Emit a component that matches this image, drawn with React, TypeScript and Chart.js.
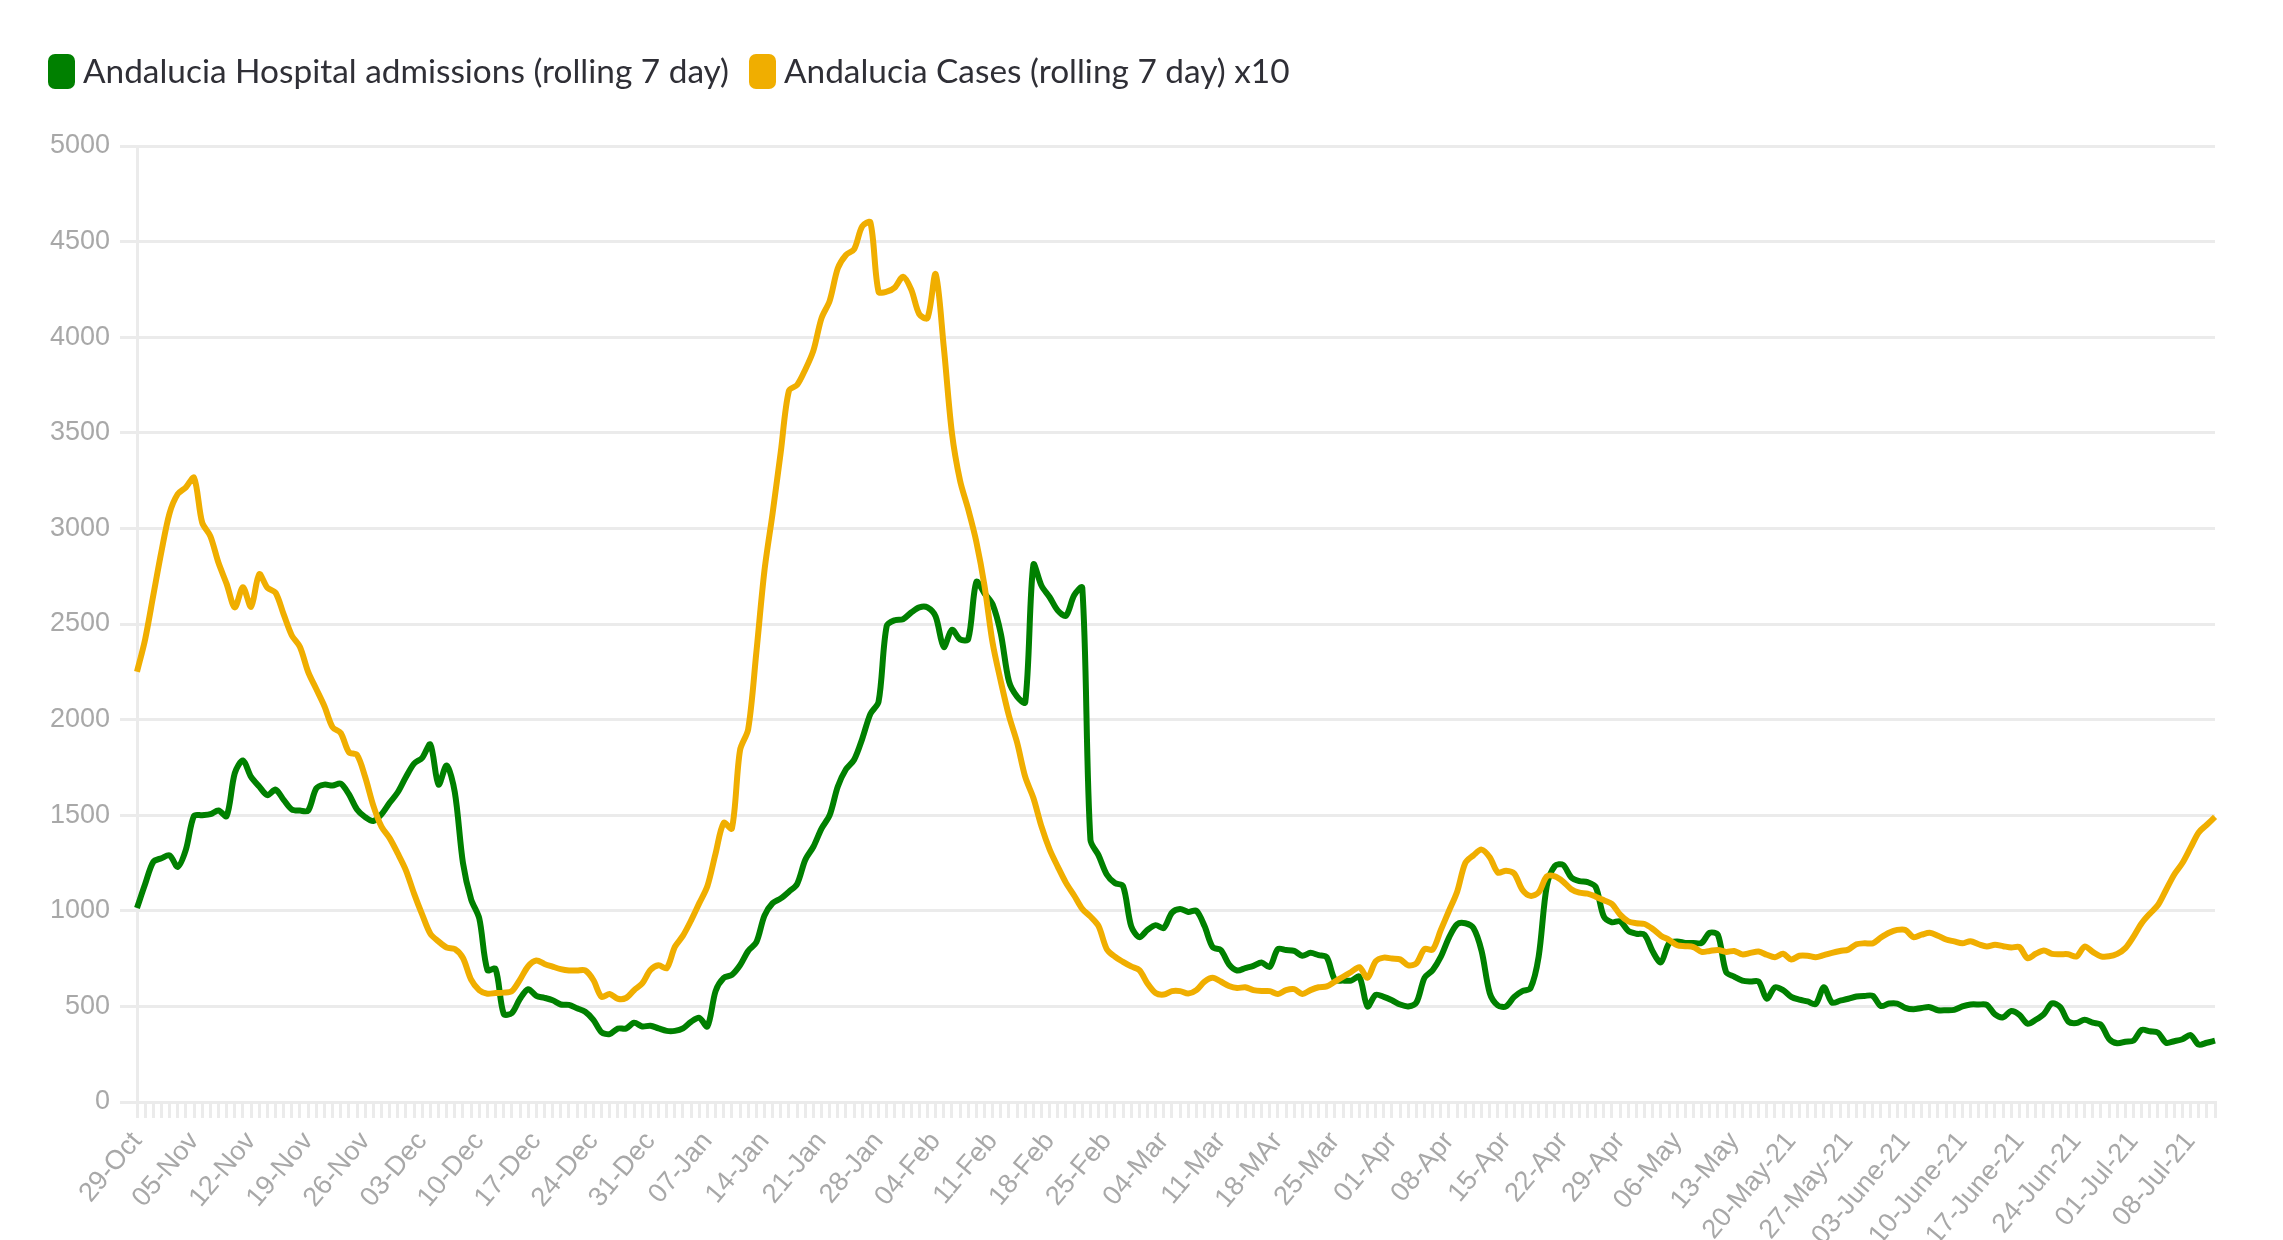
import React, { useEffect, useRef } from 'react';
import { Chart, registerables } from 'chart.js';

Chart.register(...registerables);

const W = 2283;
const H = 1240;

// Weekly tick labels (one every 7 days, starting 29-Oct-2020)
const weekTickLabels = [
  '29-Oct', '05-Nov', '12-Nov', '19-Nov', '26-Nov', '03-Dec', '10-Dec', '17-Dec', '24-Dec', '31-Dec',
  '07-Jan', '14-Jan', '21-Jan', '28-Jan', '04-Feb', '11-Feb', '18-Feb', '25-Feb', '04-Mar', '11-Mar',
  '18-MAr', '25-Mar', '01-Apr', '08-Apr', '15-Apr', '22-Apr', '29-Apr', '06-May', '13-May', '20-May-21',
  '27-May-21', '03-June-21', '10-June-21', '17-June-21', '24-Jun-21', '01-Jul-21', '08-Jul-21',
];

const seriesNames = [
  'Andalucia Hospital admissions (rolling 7 day)',
  'Andalucia Cases (rolling 7 day) x10',
];

// Daily values, 29-Oct-2020 .. 11-Jul-2021
const hospital = [
  1015, 1140, 1256, 1275, 1290, 1230, 1320, 1497, 1500, 1505,
  1525, 1495, 1720, 1786, 1700, 1650, 1605, 1634, 1580, 1530,
  1524, 1524, 1640, 1660, 1655, 1665, 1610, 1530, 1490, 1470,
  1505, 1565, 1620, 1700, 1770, 1800, 1870, 1660, 1760, 1620,
  1250, 1060, 960, 690, 696, 461, 465, 540, 590, 555,
  545, 532, 510, 508, 490, 472, 430, 365, 355, 384,
  384, 414, 395, 399, 385, 372, 372, 385, 420, 440,
  395, 580, 649, 665, 715, 790, 835, 975, 1040, 1065,
  1100, 1140, 1266, 1335, 1430, 1500, 1650, 1740, 1790, 1900,
  2030, 2093, 2490, 2520, 2525, 2560, 2587, 2587, 2540, 2380,
  2470, 2420, 2420, 2720, 2660, 2602, 2450, 2200, 2120, 2090,
  2810, 2700, 2640, 2570, 2543, 2650, 2690, 1371, 1290, 1190,
  1145, 1130, 920, 862, 900, 925, 910, 990, 1010, 994,
  1000, 920, 810, 795, 720, 688, 700, 712, 730, 706,
  800, 795, 790, 765, 780, 768, 757, 640, 635, 635,
  655, 500, 560, 550, 532, 510, 500, 520, 650, 690,
  760, 860, 930, 935, 910, 790, 570, 505, 500, 550,
  580, 595, 760, 1130, 1235, 1240, 1175, 1155, 1150, 1125,
  970, 940, 945, 895, 880, 875, 787, 730, 830, 840,
  832, 832, 832, 885, 874, 680, 656, 635, 630, 630,
  540, 600, 585, 550, 535, 526, 512, 600, 520, 530,
  540, 552, 555, 555, 502, 515, 515, 492, 485, 492,
  496, 480, 480, 482, 500, 510, 510, 508, 458, 443,
  476, 456, 410, 430, 460, 516, 497, 421, 413, 430,
  415, 404, 330, 307, 315, 321, 377, 370, 363, 310,
  318, 328, 350, 300, 310, 321,
];

const casesX10 = [
  2250, 2420, 2650, 2880, 3080, 3180, 3215, 3265, 3030, 2960,
  2820, 2710, 2587, 2692, 2590, 2760, 2690, 2664, 2550, 2440,
  2380, 2250, 2160, 2070, 1960, 1930, 1830, 1815, 1700, 1550,
  1440, 1380, 1300, 1212, 1090, 980, 880, 840, 808, 800,
  753, 640, 585, 566, 570, 572, 580, 640, 710, 740,
  722, 708, 695, 688, 688, 688, 638, 550, 565, 540,
  544, 585, 620, 690, 715, 700, 811, 870, 950, 1040,
  1130, 1300, 1460, 1430, 1840, 1950, 2350, 2780, 3080, 3400,
  3720, 3750, 3830, 3930, 4100, 4190, 4360, 4430, 4460, 4580,
  4600, 4238, 4238, 4260, 4316, 4250, 4120, 4100, 4330, 3950,
  3500, 3250, 3100, 2930, 2700, 2400, 2200, 2020, 1880, 1700,
  1590, 1440, 1320, 1230, 1146, 1080, 1010, 970, 920, 800,
  760, 733, 709, 690, 620, 570, 562, 580, 580, 567,
  585, 630, 650, 630, 607, 596, 600, 585, 580, 580,
  565, 585, 590, 565, 585, 600, 605, 630, 655, 680,
  705, 650, 735, 755, 750, 746, 715, 725, 800, 797,
  900, 1000, 1100, 1250, 1290, 1320, 1280, 1200, 1210, 1195,
  1110, 1078, 1096, 1180, 1180, 1153, 1113, 1095, 1090, 1074,
  1055, 1035, 980, 945, 935, 931, 905, 870, 848, 820,
  815, 810, 785, 790, 795, 785, 790, 772, 780, 787,
  770, 757, 775, 745, 765, 765, 757, 768, 780, 790,
  797, 825, 830, 830, 860, 885, 900, 900, 862, 875,
  885, 870, 850, 840, 830, 841, 825, 813, 822, 815,
  808, 810, 752, 775, 792, 775, 773, 773, 761, 813,
  785, 762, 762, 775, 805, 865, 935, 985, 1030, 1110,
  1190, 1250, 1330, 1410, 1450, 1491,
];

const GREEN = '#008000';
const YELLOW = '#f0ae00';
const GRID = '#ebebeb';
const TICK_COLOR = '#a8a8a8';

export default function App() {
  const ref = useRef<HTMLCanvasElement>(null);

  useEffect(() => {
    document.body.style.margin = '0';
    const canvas = ref.current;
    if (!canvas) return;

    const dayLabels = hospital.map((_, i) =>
      i % 7 === 0 && weekTickLabels[i / 7] !== undefined ? weekTickLabels[i / 7] : ''
    );

    const legendPlugin = {
      id: 'customLegend',
      afterDraw(chart: any) {
        const ctx = chart.ctx as CanvasRenderingContext2D;
        ctx.save();
        ctx.font = '33.4px Lato';
        ctx.textBaseline = 'alphabetic';
        ctx.textAlign = 'left';
        let x = 48;
        chart.data.datasets.forEach((ds: any) => {
          ctx.fillStyle = ds.borderColor;
          ctx.beginPath();
          (ctx as any).roundRect(x, 54, 27, 35, 7);
          ctx.fill();
          x += 27 + 8;
          ctx.fillStyle = '#2f2f36';
          ctx.fillText(ds.label, x, 83);
          x += ctx.measureText(ds.label).width + 20;
        });
        ctx.restore();
      },
    };

    const tickFont = { family: 'Liberation Sans', size: 27 };

    const chart = new Chart(canvas, {
      type: 'line',
      data: {
        labels: dayLabels,
        datasets: [
          {
            label: seriesNames[0],
            data: hospital,
            borderColor: GREEN,
            backgroundColor: GREEN,
            borderWidth: 6,
            pointRadius: 0,
            tension: 0.3,
            fill: false,
            order: 1,
          },
          {
            label: seriesNames[1],
            data: casesX10,
            borderColor: YELLOW,
            backgroundColor: YELLOW,
            borderWidth: 6,
            pointRadius: 0,
            tension: 0.3,
            fill: false,
            order: 0,
          },
        ],
      },
      options: {
        responsive: false,
        animation: false,
        layout: { padding: { top: 146, right: 68, left: 0, bottom: 0 } },
        plugins: {
          legend: { display: false },
          tooltip: { enabled: false },
        },
        scales: {
          x: {
            type: 'category',
            grid: {
              display: true,
              drawOnChartArea: false,
              drawTicks: true,
              tickLength: 16,
              color: GRID,
              lineWidth: 3,
            },
            border: { display: true, color: GRID, width: 3 },
            ticks: {
              autoSkip: false,
              maxRotation: 50,
              minRotation: 50,
              font: tickFont,
              color: TICK_COLOR,
              padding: 8,
            },
            afterFit(scale: any) {
              scale.height = 138;
            },
          },
          y: {
            min: 0,
            max: 5000,
            ticks: {
              stepSize: 500,
              font: tickFont,
              color: TICK_COLOR,
              padding: 10,
              callback: (v: any) => String(v),
            },
            grid: {
              color: GRID,
              lineWidth: 3,
              drawTicks: true,
              tickLength: 17,
            },
            border: { display: true, color: GRID, width: 3 },
            afterFit(scale: any) {
              scale.width = 137;
            },
          },
        },
      },
      plugins: [legendPlugin],
    });

    return () => chart.destroy();
  }, []);

  return (
    <div style={{ width: W, height: H, position: 'relative' }}>
      <canvas ref={ref} width={W} height={H} style={{ display: 'block', width: W, height: H }} />
    </div>
  );
}
